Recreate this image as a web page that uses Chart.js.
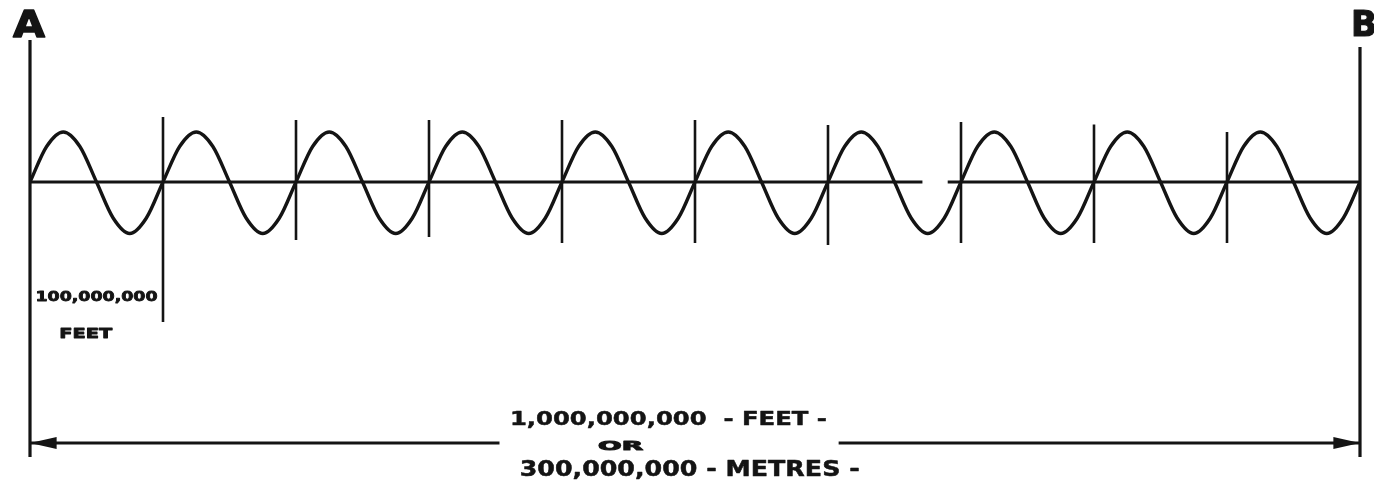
<!DOCTYPE html>
<html>
<head>
<meta charset="utf-8">
<script src="https://cdn.jsdelivr.net/npm/chart.js@4/dist/chart.umd.min.js"></script>
<style>
  html, body { margin: 0; padding: 0; background: #fff; }
  #wrap { width: 1374px; height: 484px; position: relative; }
</style>
</head>
<body>
<div id="wrap"><canvas id="wave"></canvas></div>
<script>
// x in units of 100,000,000 feet, y in wave amplitudes
const waveX = [
  0, 0.125, 0.25, 0.375, 0.5, 0.625, 0.75, 0.875,
  1, 1.125, 1.25, 1.375, 1.5, 1.625, 1.75, 1.875,
  2, 2.125, 2.25, 2.375, 2.5, 2.625, 2.75, 2.875,
  3, 3.125, 3.25, 3.375, 3.5, 3.625, 3.75, 3.875,
  4, 4.125, 4.25, 4.375, 4.5, 4.625, 4.75, 4.875,
  5, 5.125, 5.25, 5.375, 5.5, 5.625, 5.75, 5.875,
  6, 6.125, 6.25, 6.375, 6.5, 6.625, 6.75, 6.875,
  7, 7.125, 7.25, 7.375, 7.5, 7.625, 7.75, 7.875,
  8, 8.125, 8.25, 8.375, 8.5, 8.625, 8.75, 8.875,
  9, 9.125, 9.25, 9.375, 9.5, 9.625, 9.75, 9.875,
  10
];
const waveY = [
  0, 0.71, 1.0, 0.71, 0, -0.72, -1.03, -0.72,
  0, 0.71, 1.0, 0.71, 0, -0.72, -1.03, -0.72,
  0, 0.71, 1.0, 0.71, 0, -0.72, -1.03, -0.72,
  0, 0.71, 1.0, 0.71, 0, -0.72, -1.03, -0.72,
  0, 0.71, 1.0, 0.71, 0, -0.72, -1.03, -0.72,
  0, 0.71, 1.0, 0.71, 0, -0.72, -1.03, -0.72,
  0, 0.71, 1.0, 0.71, 0, -0.72, -1.03, -0.72,
  0, 0.71, 1.0, 0.71, 0, -0.72, -1.03, -0.72,
  0, 0.71, 1.0, 0.71, 0, -0.72, -1.03, -0.72,
  0, 0.71, 1.0, 0.71, 0, -0.72, -1.03, -0.72,
  0
];
// axis line has a small break near 6.8
const baseX = [0, 6.71, 6.8, 6.9, 10];
const baseY = [0, 0, null, 0, 0];

// wavelength dividers
const dividerX = [1, 2, 3, 4, 5, 6, 7, 8, 9];
const dividerTop = [1.3, 1.24, 1.24, 1.24, 1.24, 1.14, 1.2, 1.15, 1.0];
const dividerBottom = [-2.8, -1.16, -1.1, -1.22, -1.22, -1.26, -1.22, -1.22, -1.22];

// end posts A and B
const edgeX = [0, 10];
const edgeTop = [2.84, 2.7];
const edgeBottom = [-5.5, -5.5];
const edgeLabels = ['A', 'B'];

const waveLabel = ['100,000,000', 'FEET'];
const spanLabel = ['1,000,000,000  - FEET -', 'OR', '300,000,000 - METRES -'];

const INK = '#141414';

function stretchText(ctx, text, cx, cy, size, width, weight) {
  ctx.save();
  ctx.font = `bold ${size}px "DejaVu Sans", sans-serif`;
  ctx.textAlign = 'center';
  ctx.textBaseline = 'middle';
  const w = ctx.measureText(text).width;
  ctx.translate(cx, cy);
  ctx.scale(width / w, 1);
  if (weight > 0) {
    ctx.lineWidth = weight;
    ctx.lineJoin = 'round';
    ctx.strokeText(text, 0, 0);
  }
  ctx.fillText(text, 0, 0);
  ctx.restore();
}

const drawingPlugin = {
  id: 'drawing',
  afterDatasetsDraw(chart) {
    const ctx = chart.ctx;
    const xs = chart.scales.x, ys = chart.scales.y;
    const px = v => xs.getPixelForValue(v);
    const py = v => ys.getPixelForValue(v);
    ctx.save();
    ctx.strokeStyle = INK;
    ctx.fillStyle = INK;
    ctx.lineCap = 'butt';

    // dividers
    ctx.lineWidth = 2.6;
    dividerX.forEach((x, i) => {
      ctx.beginPath();
      ctx.moveTo(px(x), py(dividerTop[i]));
      ctx.lineTo(px(x), py(dividerBottom[i]));
      ctx.stroke();
    });

    // end posts
    ctx.lineWidth = 3.2;
    edgeX.forEach((x, i) => {
      ctx.beginPath();
      ctx.moveTo(px(x), py(edgeTop[i]));
      ctx.lineTo(px(x), py(edgeBottom[i]));
      ctx.stroke();
    });
    stretchText(ctx, edgeLabels[0], px(0) - 1, py(3.1), 38, 32, 1.4);
    stretchText(ctx, edgeLabels[1], px(10) + 4, py(3.1), 36, 26, 1.2);

    // overall dimension line with arrows
    const dy = py(-5.22);
    ctx.lineWidth = 2.8;
    ctx.beginPath();
    ctx.moveTo(px(0), dy); ctx.lineTo(px(3.53), dy);
    ctx.moveTo(px(6.08), dy); ctx.lineTo(px(10), dy);
    ctx.stroke();
    [[0, 0.2], [10, 9.8]].forEach(([tip, base]) => {
      ctx.beginPath();
      ctx.moveTo(px(tip), dy);
      ctx.lineTo(px(base), dy - 6);
      ctx.lineTo(px(base), dy + 6);
      ctx.closePath();
      ctx.fill();
    });

    // labels
    stretchText(ctx, waveLabel[0], px(0.5), py(-2.3), 14, 122, 0.8);
    stretchText(ctx, waveLabel[1], px(0.42), py(-3.04), 14, 53, 0.8);
    stretchText(ctx, spanLabel[0], px(4.8), py(-4.76), 20, 317, 0.5);
    stretchText(ctx, spanLabel[1], px(4.44), py(-5.3), 13, 45, 1.0);
    stretchText(ctx, spanLabel[2], px(4.96), py(-5.78), 21, 340, 0.5);
    ctx.restore();
  }
};

new Chart(document.getElementById('wave'), {
  type: 'line',
  data: {
    datasets: [
      {
        label: 'wave',
        data: waveX.map((x, i) => ({ x, y: waveY[i] })),
        borderColor: INK,
        borderWidth: 3.4,
        pointRadius: 0,
        cubicInterpolationMode: 'monotone',
        fill: false
      },
      {
        label: 'axis',
        data: baseX.map((x, i) => ({ x, y: baseY[i] })),
        borderColor: INK,
        borderWidth: 2.8,
        pointRadius: 0,
        tension: 0,
        spanGaps: false,
        fill: false
      }
    ]
  },
  options: {
    responsive: true,
    maintainAspectRatio: false,
    animation: false,
    layout: { padding: { left: 30, right: 14, top: 0, bottom: 0 } },
    plugins: { legend: { display: false }, tooltip: { enabled: false } },
    scales: {
      x: { type: 'linear', min: 0, max: 10, display: false },
      y: { min: -6.04, max: 3.64, display: false }
    }
  },
  plugins: [drawingPlugin]
});
</script>
</body>
</html>
